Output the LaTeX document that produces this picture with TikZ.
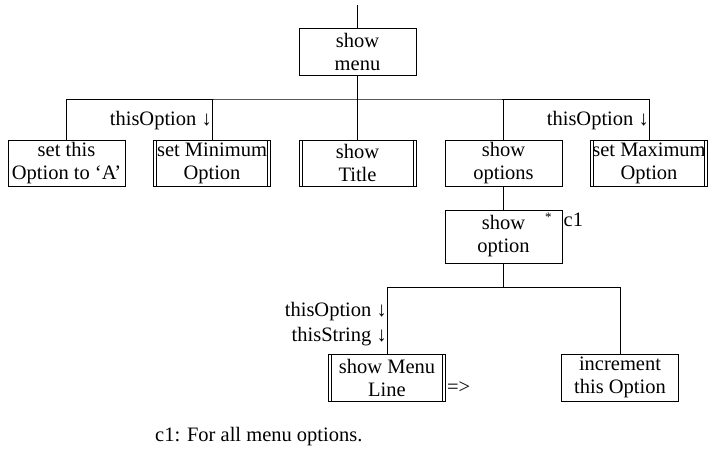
\documentclass[tikz,border=0pt]{standalone}
\usepackage{fontspec}
\setmainfont{Liberation Serif}
\usetikzlibrary{calc}
\tikzset{
  every node/.style={font=\fontsize{20.5}{23}\selectfont,inner sep=0pt},
  box/.style={draw,line width=.9pt,minimum width=117pt,minimum height=47pt,align=center},
  dbox/.style={box,path picture={
      \draw[line width=.9pt] ([xshift=3pt]path picture bounding box.north west)--([xshift=3pt]path picture bounding box.south west);
      \draw[line width=.9pt] ([xshift=-3pt]path picture bounding box.north east)--([xshift=-3pt]path picture bounding box.south east);}},
  link/.style={line width=.9pt},
  flag/.style={anchor=east},
}

\begin{document}
\begin{tikzpicture}[x=1pt,y=-1pt]
\path[use as bounding box,fill=white] (0,0) rectangle (727,451);
\node[box] (menu) at (357.5,51.5) {show\\menu};
\node[box,minimum height=46pt] (setA) at (66.5,163) {set this\\Option to `A'};
\node[dbox,minimum height=46pt] (setMin) at (212,163) {set Minimum\\Option};
\node[dbox,minimum height=46pt] (title) at (357.5,163) {show\\Title};
\node[box,minimum height=46pt] (opts) at (503.5,163) {show\\options};
\node[dbox,minimum height=46pt] (setMax) at (649,163) {set Maximum\\Option};
\node[box,minimum height=53pt] (option) at (503.5,236.5) {show\\option};
\node[dbox] (menuLine) at (387,377.5) {show Menu\\Line};
\node[box] (incr) at (620,377.5) {increment\\this Option};
% tree connectors
\coordinate (top) at (357.5,5);
\coordinate (bar) at (357.5,99);
\coordinate (bar2) at (503.5,287);
\draw[link] (top) -- (menu);
\draw[link] (menu) -- (title);
\draw[link] (setA.north) |- (bar) -| (setMax.north);
\draw[link] (setMin.north) -- (setMin.north |- bar);
\draw[link] (opts.north) -- (opts.north |- bar);
\draw[link] (opts) -- (option);
\draw[link] (option) -- (bar2);
\draw[link] (menuLine.north) |- (bar2) -| (incr.north);
% data flags
\node[flag] (minIn) at ([yshift=19pt]setMin.north) {thisOption ↓};
\node[flag] (maxIn) at ([yshift=19pt]setMax.north) {thisOption ↓};
\node[flag] (lineOpt) at ([yshift=42pt]menuLine.north) {thisOption ↓};
\node[flag] (lineStr) at ([yshift=17pt]menuLine.north) {thisString ↓};
\node[anchor=west] (lineOut) at ([xshift=1pt,yshift=-10pt]menuLine.east) {=>};
% iteration mark
\node[font=\fontsize{13}{13}\selectfont,anchor=north] (star) at ([xshift=-14pt,yshift=-3pt]option.north east) {*};
\node[anchor=north west] (c1) at ([xshift=1pt,yshift=-3pt]option.north east) {c1};
\node[anchor=west] (note) at (155,437) {c1: For all menu options.};
\end{tikzpicture}
\end{document}
